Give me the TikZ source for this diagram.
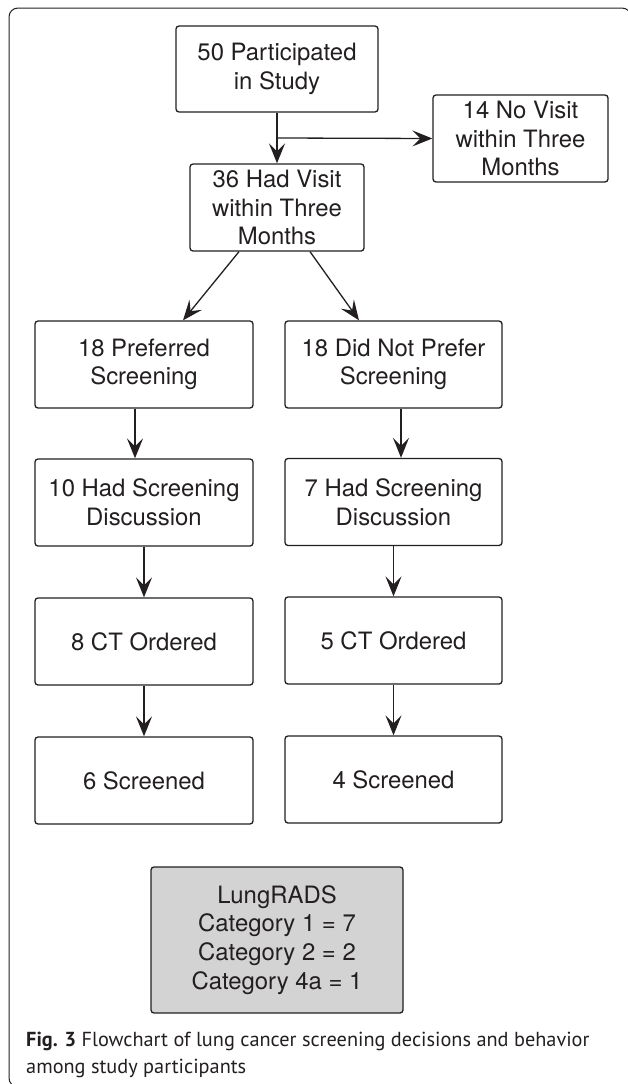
\documentclass[tikz,border=0pt]{standalone}
\usepackage{fontspec}
\setmainfont{TeX Gyre Heros}
\newfontfamily\capfont{PT Sans}
\usetikzlibrary{arrows.meta}
\definecolor{ink}{HTML}{231F20}
\definecolor{boxgray}{HTML}{D3D3D3}
\tikzset{
  flowbox/.style={draw=ink, line width=1.3pt, rounded corners=3pt, inner sep=0pt,
    align=center, text=ink, font=\fontsize{23.9}{28.7}\selectfont},
  arr/.style={draw=ink, line width=1.3pt,
    -{Stealth[length=20pt,width=16pt,inset=8pt]}},
  captext/.style={anchor=base west, inner sep=0pt, text=ink,
    font=\capfont\fontsize{20.3}{26}\selectfont}
}
\begin{document}
\begin{tikzpicture}[x=1pt,y=-1pt]
\useasboundingbox (0,0) rectangle (627,1084);
% outer frame
\draw[ink, line width=1pt, rounded corners=9pt] (9,8) rectangle (631,1087);

% boxes
\node[flowbox, minimum width=202pt, minimum height=86pt] (b50) at (277,69) {50 Participated\\in Study};
\node[flowbox, minimum width=175pt, minimum height=87pt] (b14) at (520.5,138.5) {14 No Visit\\within Three\\Months};
\node[flowbox, minimum width=174pt, minimum height=87pt] (b36) at (277,207.5) {36 Had Visit\\within Three\\Months};
\node[flowbox, minimum width=218pt, minimum height=87pt] (b18p) at (144,364.5) {18 Preferred\\Screening};
\node[flowbox, minimum width=217pt, minimum height=87pt] (b18n) at (393.5,364.5) {18 Did Not Prefer\\Screening};
\node[flowbox, minimum width=218pt, minimum height=87pt] (b10) at (144,502.5) {10 Had Screening\\Discussion};
\node[flowbox, minimum width=217pt, minimum height=87pt] (b7) at (393.5,502) {7 Had Screening\\Discussion};
\node[flowbox, minimum width=218pt, minimum height=87pt] (b8) at (144,641.5) {8 CT Ordered};
\node[flowbox, minimum width=217pt, minimum height=87pt] (b5) at (393.5,640.5) {5 CT Ordered};
\node[flowbox, minimum width=218pt, minimum height=87pt] (b6) at (144,780.5) {6 Screened};
\node[flowbox, minimum width=217pt, minimum height=87pt] (b4) at (393.5,779.5) {4 Screened};
\node[flowbox, fill=boxgray, minimum width=252pt, minimum height=146pt] (lr) at (277,940)
  {LungRADS\\Category 1 = 7\\Category 2 = 2\\Category 4a = 1};

% connectors
\coordinate (split) at (277,138);
\draw[arr] (b50) -- (b36);
\draw[arr] (split) -- (b14.west);
\draw[arr] ([xshift=-38pt]b36.south) -- ([xshift=39pt]b18p.north);
\draw[arr] ([xshift=33pt]b36.south) -- ([xshift=-34.5pt]b18n.north);
\draw[arr] ([xshift=-9pt]b18p.south) -- ([xshift=-9pt]b10.north);
\draw[arr] ([xshift=7.5pt]b18n.south) -- ([xshift=7.5pt]b7.north);
\draw[arr] (b10) -- (b8);
\draw[arr] (b7) -- (b5);
\draw[arr] (b8) -- (b6);
\draw[arr] (b5) -- (b4);

% caption
\node[captext] (cap1) at (26,1046) {\textbf{Fig. 3} Flowchart of lung cancer screening decisions and behavior};
\node[captext] (cap2) at (26,1073) {among study participants};
\end{tikzpicture}
\end{document}
